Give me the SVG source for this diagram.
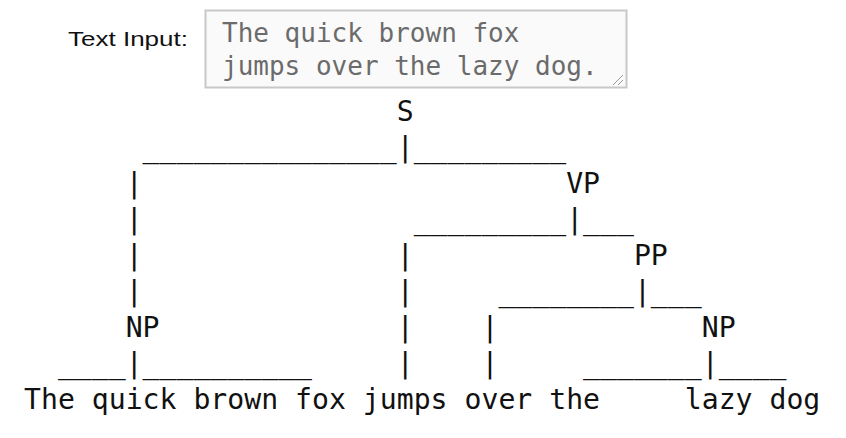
<svg xmlns="http://www.w3.org/2000/svg" width="846" height="438" viewBox="0 0 846 438">
<style>
.t{font-family:"DejaVu Sans Mono",monospace;font-size:28.15px;fill:#111;white-space:pre}
.in{font-family:"DejaVu Sans Mono",monospace;font-size:26px;fill:#6b6b6b;white-space:pre}
</style>
<rect width="846" height="438" fill="#fff"/>
<g id="input">
<text x="68" y="46" font-family="Liberation Sans, Arial, sans-serif" font-size="21" fill="#111" textLength="120" lengthAdjust="spacingAndGlyphs">Text Input:</text>
<rect x="205.5" y="10.5" width="421" height="77" fill="#fafafa" stroke="#c8c8c8" stroke-width="2"/>
<text class="in" x="222" y="42">The quick brown fox</text>
<text class="in" x="222" y="75">jumps over the lazy dog.</text>
<path d="M613 85 L623 75 M618 85 L623 80" stroke="#999" stroke-width="1"/>
</g>
<g id="tree">
<text class="t" x="24" y="121" xml:space="preserve">                      S</text>
<text class="t" x="24" y="157" xml:space="preserve">       _______________|_________</text>
<text class="t" x="24" y="193" xml:space="preserve">      |                         VP</text>
<text class="t" x="24" y="229" xml:space="preserve">      |                _________|___</text>
<text class="t" x="24" y="265" xml:space="preserve">      |               |             PP</text>
<text class="t" x="24" y="301" xml:space="preserve">      |               |     ________|___</text>
<text class="t" x="24" y="337" xml:space="preserve">      NP              |    |            NP</text>
<text class="t" x="24" y="373" xml:space="preserve">  ____|__________     |    |     _______|____</text>
<text class="t" x="24" y="409" xml:space="preserve">The quick brown fox jumps over the     lazy dog</text>
</g>
</svg>
